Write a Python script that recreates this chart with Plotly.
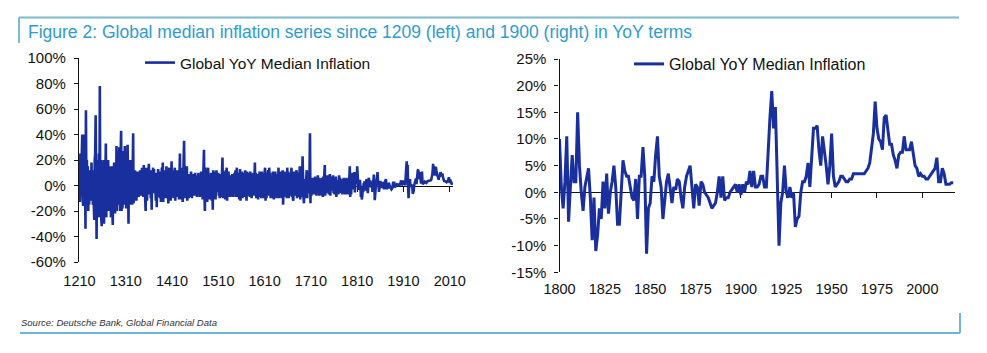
import plotly.graph_objects as go

# ---------------- data (YoY %) ----------------
early_start = 1209
early_inflation = [
    8,
    10, -13, 25, -8, 20, 5, 40, -10, -16, 30,        # 1210s
    40, -15, 10, -34, 59, -10, 20, -12, 15, -20,     # 1220s
    10, -15, 12, -10, 8, -12, 18, -10, 5, -15,       # 1230s
    12, -15, -27, 20, 25, 55, -25, -42, 20, -25,     # 1240s
    15, -20, 25, -25, 78, -15, 20, -25, -32, 18,     # 1250s
    -20, 12, 20, -30, 15, -18, 20, 33, -25, 15,      # 1260s
    -15, 20, 20, -20, 10, 15, -18, 12, -25, 15,      # 1270s
    12, -20, -31, 15, 10, 18, -15, -22, 15, -12,     # 1280s
    31, -20, 25, -15, 20, 12, 30, -18, -20, 25,      # 1290s
    43, -20, 15, -18, 25, 27, -15, 20, 31, -15,      # 1300s
    20, -18, 22, 8, 32, -15, -30, 20, -12, 15,       # 1310s
    12, 20, -15, 10, -15, 12, 41, -14, 10, -12,      # 1320s
    12, -4, 10, -12, 3, 11, -6, 8, -9, 5,            # 1330s
    -3, 12, -8, 4, -8, 14, -2, 12, -9, 16,           # 1340s
    -5, 9, -11, -20, 14, 3, -12, 6, -4, 12,          # 1350s
    17, -7, 3, 12, -10, 5, -19, 12, -2, 14,          # 1360s
    -6, 13, -4, 9, 3, -12, 10, -17, 5, -9,           # 1370s
    13, -3, 9, 4, -10, 11, -13, 2, 14, -6,           # 1380s
    18, -13, 5, -8, 12, 3, -10, 7, 15, -4,           # 1390s
    9, -5, -14, 4, 14, -9, 6, -12, 3, 19,            # 1400s
    -7, 4, 12, -10, 6, -3, 14, -12, 5, 11,           # 1410s
    -5, 12, -9, 3, 9, -11, 6, 25, -10, 4,            # 1420s
    -11, 3, 14, -13, 7, -2, 35, 5, -10, 8,           # 1430s
    -6, 13, 15, -12, 4, 9, -10, 3, -9, 8,            # 1440s
    -4, 11, 6, -10, 2, -8, 9, -3, 7, -8,             # 1450s
    10, -2, 8, 4, -9, 6, -7, 10, -3, 6,              # 1460s
    -9, 5, -4, 11, -8, 3, -11, 10, 4, 28,            # 1470s
    -6, -20, 14, 3, -10, 7, -13, 2, 14, -11,         # 1480s
    6, -10, 4, -11, 10, 3, -12, 8, -19, 12,          # 1490s
    -4, 11, -9, 3, -11, 6, 12, -5, 9, -3,            # 1500s
    10, -8, 4, -10, -6, 9, 2, -9, 11, 22,            # 1510s
    -10, 3, 11, -4, 7, -11, 12, 2, 14, -12,          # 1520s
    5, -9, 11, -3, 6, 8, -9, 2, -8, 7,               # 1530s
    9, -4, -9, 3, -6, 10, -2, 12, -9, 5,             # 1540s
    14, -6, 4, -9, 10, -11, 3, 13, -12, 6,           # 1550s
    -4, 11, -10, 2, 10, -5, 7, -9, 12, -3,           # 1560s
    6, -12, 11, -5, 3, -8, 10, 4, -9, 11,            # 1570s
    -3, 9, -10, 5, -6, 10, 2, -8, 11, 18,            # 1580s
    -4, 10, -10, 3, -8, 9, -11, 5, -2, 11,           # 1590s
    6, -9, 3, -10, 11, -4, 9, -10, 2, -5,            # 1600s
    10, 14, -12, 4, -10, 6, -3, 10, 12, -8,          # 1610s
    14, -2, 10, -10, 5, -8, 3, -10, 11, 4,           # 1620s
    -11, 6, -4, 11, -8, 2, -10, 7, 9, -3,            # 1630s
    14, -10, 3, -9, 11, -4, 6, -10, 2, 12,           # 1640s
    -15, 4, -9, 11, -3, 9, -8, 5, -10, 14,           # 1650s
    -3, 11, -10, 4, -8, 10, -2, 7, 14, -9,           # 1660s
    5, -10, -12, 11, -3, 6, -8, 2, 11, 12,           # 1670s
    -10, 4, -9, 10, -2, 6, 15, -11, 3, -9,           # 1680s
    11, -4, 23, 7, -9, -14, 5, -10, 3, -8,           # 1690s
    6, 12, -10, 3, -6, 11, -2, 9, 41, -14,           # 1700s
    5, -8, 2, -7, 6, -3, 6, -7, 1, 7,                # 1710s
    -4, 6, -8, 2, -5, 8, -2, 6, -8, 3,               # 1720s
    -7, 4, -2, 6, -8, 3, -9, 7, -3, 9,               # 1730s
    16, -8, 3, -5, 6, -2, 8, -6, 2, -7,              # 1740s
    5, 9, -8, 3, -4, 7, -2, 6, 8, -6,                # 1750s
    2, -7, 5, -3, 7, -9, 3, -6, 4, -7,               # 1760s
    5, 8, -3, 6, -6, 2, -6, 4, -7, 5,                # 1770s
    -3, 6, -6, 2, -7, 5, -2, 6, -7, 3,               # 1780s
    -7, 5, -3, 6, 15, -9, 2, -7, 8, -3,              # 1790s
]

modern_start = 1800
modern_inflation = [
    10, 1, -3, 2, 10.5, -5.5, 1, 7, 2, 2,            # 1800s
    15, 5, 0, -3.5, 1, 3, 4.5, -1, -9, -1,           # 1810s
    -11, -8, -3, -5, 2, -3, 3.5, -4, 0, 2,           # 1820s
    5, 1, -6, -6, -1, 6, 4, 3, 3, 1,                 # 1830s
    -1, -1.5, 2.5, -5, 3, 3, 8.5, 3, -11.5, -3,      # 1840s
    -2, 3, 2, 7, 10.5, 3, 1, -5, -2, 2,              # 1850s
    3.5, 1, -2, 1, 0.5, 2.5, 2, -1, -3, 1,           # 1860s
    3, 4, 5, 1, -3, 1.5, 1, -2.5, 2, 1.5,            # 1870s
    0, -0.5, -1, -2, -3, -2.5, -2, 0, 3, -1,         # 1880s
    3, -1.5, -1, -1, 0, 0.5, 1, 1.5, 0, 1.5,         # 1890s
    -0.5, 1.5, 0, 2, 1.5, 4, 1, 4, 1, 1,             # 1900s
    1.5, 3, 3, 1, 1, 8, 14, 19, 12, 16,              # 1910s
    0, -10, -2, 0, 5, 0, -1, 1, -1, 0,               # 1920s
    -6.5, -5, -4.5, 0, 2, 2, 3, 5.5, 1, 7,           # 1930s
    12, 12, 12.5, 8, 5, 10.5, 8, 5, 1.5, 5,          # 1940s
    11, 3, 1, 1.5, 2, 3, 3, 2.5, 2, 2,               # 1950s
    2.5, 2.5, 3.5, 3.5, 3.5, 3.5, 3.5, 3.5, 3.5, 4,  # 1960s
    4.5, 5.5, 8, 11, 17, 12, 10, 9.5, 8, 14,         # 1970s
    14.5, 12, 9, 9, 7, 6, 4.5, 7, 7.5, 7.5,          # 1980s
    10.5, 8, 8, 8, 9.5, 7, 5, 4.5, 3, 3.5,           # 1990s
    3, 3, 2.5, 2.5, 3, 3.5, 4, 4.5, 6.5, 2,          # 2000s
    2, 4.5, 3.5, 1.5, 1.5, 1.5, 1.8, 1.8,            # 2010s
]

left_x_ticks = [1210, 1310, 1410, 1510, 1610, 1710, 1810, 1910, 2010]
right_x_ticks = [1800, 1825, 1850, 1875, 1900, 1925, 1950, 1975, 2000]
left_y_ticks = [-60, -40, -20, 0, 20, 40, 60, 80, 100]
right_y_ticks = [-15, -10, -5, 0, 5, 10, 15, 20, 25]
left_x_range = [1209, 2017]
right_x_range = [1800, 2018]

series_name = "Global YoY Median Inflation"
title_text = "Figure 2: Global median inflation series since 1209 (left) and 1900 (right) in YoY terms"
source_text = "Source: Deutsche Bank, Global Financial Data"

# ---------------- derived series ----------------
left_vals = early_inflation + modern_inflation
left_years = list(range(early_start, early_start + len(left_vals)))
right_years = list(range(modern_start, modern_start + len(modern_inflation)))

W, H = 987, 353
LINE = "#1a2f9e"
TEAL = "#2e9ccf"
FRAME = "#7cbccc"
FONT = "Liberation Sans, Arial, sans-serif"

def px_x(p):
    return p / W

def px_y(p):
    return 1 - p / H

left_xd = [px_x(79), px_x(453)]
right_xd = [px_x(559.5), px_x(955)]
left_yd = [px_y(262), px_y(58)]
right_yd = [px_y(272.3), px_y(59)]

def zero_pos(yd, yr):
    return yd[0] + (0 - yr[0]) / (yr[1] - yr[0]) * (yd[1] - yd[0])

left_y_range = [left_y_ticks[0], left_y_ticks[-1]]
right_y_range = [right_y_ticks[0], right_y_ticks[-1]]

fig = go.Figure()
fig.add_trace(go.Scatter(x=left_years, y=left_vals, mode="lines", name=series_name,
                         line=dict(color=LINE, width=2.6), xaxis="x", yaxis="y",
                         legend="legend"))
fig.add_trace(go.Scatter(x=right_years, y=modern_inflation, mode="lines", name=series_name,
                         line=dict(color=LINE, width=3), xaxis="x2", yaxis="y2",
                         legend="legend2"))
# helper empty traces so zero-line axes are drawn
fig.add_trace(go.Scatter(x=[None], y=[None], xaxis="x3", yaxis="y", showlegend=False))
fig.add_trace(go.Scatter(x=[None], y=[None], xaxis="x4", yaxis="y2", showlegend=False))

tickfont = dict(family=FONT, size=14.5, color="#111")

common_bottom = dict(showline=False, showgrid=False, zeroline=False, ticks="outside",
                     tickcolor="rgba(0,0,0,0)", tickfont=tickfont, automargin=False)
common_zero = dict(showline=True, linecolor="#111", linewidth=1.2, showgrid=False,
                   zeroline=False, ticks="outside", ticklen=5, tickcolor="#111",
                   showticklabels=False, anchor="free", layer="below traces", automargin=False)
common_y = dict(showline=True, linecolor="#111", linewidth=1.2, showgrid=False,
                zeroline=False, ticks="outside", ticklen=4, tickcolor="#111", automargin=False,
                ticklabelstandoff=5, tickfont=dict(family=FONT, size=15, color="#111"))

fig.update_layout(
    width=W, height=H, autosize=False,
    margin=dict(l=0, r=0, t=0, b=0, autoexpand=False),
    paper_bgcolor="white", plot_bgcolor="white",
    xaxis=dict(domain=left_xd, range=left_x_range, anchor="y", ticklen=6,
               tickvals=left_x_ticks, ticktext=[str(t) for t in left_x_ticks], **common_bottom),
    yaxis=dict(domain=left_yd, range=left_y_range, anchor="x", tickvals=left_y_ticks,
               ticktext=[f"{t}%" for t in left_y_ticks], **common_y),
    xaxis2=dict(domain=right_xd, range=right_x_range, anchor="y2", ticklen=3,
                tickvals=right_x_ticks, ticktext=[str(t) for t in right_x_ticks], **common_bottom),
    yaxis2=dict(domain=right_yd, range=right_y_range, anchor="x2", tickvals=right_y_ticks,
                ticktext=[f"{t}%" for t in right_y_ticks], **common_y),
    xaxis3=dict(overlaying="x", range=left_x_range, tickvals=left_x_ticks,
                position=zero_pos(left_yd, left_y_range), **common_zero),
    xaxis4=dict(overlaying="x2", range=right_x_range, tickvals=right_x_ticks,
                position=zero_pos(right_yd, right_y_range), **common_zero),
    legend=dict(x=px_x(140), y=px_y(63), xanchor="left", yanchor="middle",
                bgcolor="rgba(0,0,0,0)", font=dict(family=FONT, size=15.5, color="#111")),
    legend2=dict(x=px_x(629), y=px_y(64), xanchor="left", yanchor="middle",
                 bgcolor="rgba(0,0,0,0)", font=dict(family=FONT, size=16, color="#111")),
    showlegend=True,
)

fig.add_annotation(text=title_text, xref="paper", yref="paper", x=px_x(26), y=px_y(32),
                   xanchor="left", yanchor="middle", showarrow=False,
                   font=dict(family=FONT, size=17.5, color=TEAL))
fig.add_annotation(text="<i>" + source_text + "</i>", xref="paper", yref="paper",
                   x=px_x(19), y=px_y(322), xanchor="left", yanchor="middle", showarrow=False,
                   font=dict(family=FONT, size=9.5, color="#333"))

frame = dict(color=FRAME, width=2)
fig.add_shape(type="line", xref="paper", yref="paper", x0=px_x(19), x1=px_x(959),
              y0=px_y(17.5), y1=px_y(17.5), line=frame)
fig.add_shape(type="line", xref="paper", yref="paper", x0=px_x(19), x1=px_x(19),
              y0=px_y(17.5), y1=px_y(43), line=frame)
fig.add_shape(type="line", xref="paper", yref="paper", x0=px_x(20), x1=px_x(960),
              y0=px_y(333), y1=px_y(333), line=dict(color="#6cb6d8", width=2))
fig.add_shape(type="line", xref="paper", yref="paper", x0=px_x(960), x1=px_x(960),
              y0=px_y(313), y1=px_y(333), line=dict(color="#6cb6d8", width=2))

fig.write_html("out.html")
